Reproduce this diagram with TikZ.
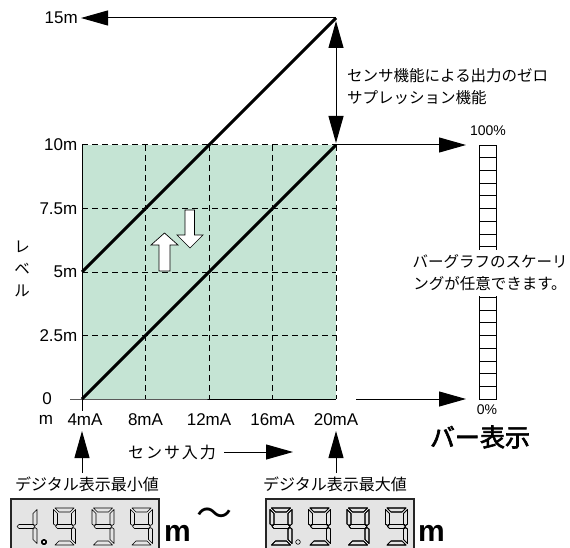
\documentclass[tikz,border=0pt]{standalone}
\usepackage{fontspec}
\setmainfont{Liberation Sans}
\newfontfamily\jp{Noto Sans CJK JP}
\newfontfamily\jpwide[LetterSpace=12]{Noto Sans CJK JP}
\newfontfamily\jpb[FakeBold=2.5]{Noto Sans CJK JP}
\usetikzlibrary{arrows.meta}

\definecolor{chartgreen}{RGB}{197,228,212}
\definecolor{panelgray}{RGB}{228,228,228}

\tikzset{
  sega/.pic={\path[segline] (1.5,37)--(20.5,37)--(16.5,33)--(5.5,33)--cycle;},
  segb/.pic={\path[segline] (22,35.5)--(18,31.5)--(18,21)--(20,19.5)--(22,21)--cycle;},
  segc/.pic={\path[segline] (22,1.5)--(18,5.5)--(18,16)--(20,17.5)--(22,16)--cycle;},
  segd/.pic={\path[segline] (1.5,0)--(20.5,0)--(16.5,4)--(5.5,4)--cycle;},
  sege/.pic={\path[segline] (0,1.5)--(4,5.5)--(4,16)--(2,17.5)--(0,16)--cycle;},
  segf/.pic={\path[segline] (0,35.5)--(4,31.5)--(4,21)--(2,19.5)--(0,21)--cycle;},
  segg/.pic={\path[segline] (2,18.5)--(4,20.5)--(18,20.5)--(20,18.5)--(18,16.5)--(4,16.5)--cycle;}
}
\newcommand{\sevenseg}[3]{%
  \begin{scope}[shift={(#1,#2)},xslant=0.14]
    \foreach \s in {#3} \pic {seg\s};
  \end{scope}}

\begin{document}
\begin{tikzpicture}[x=1pt,y=1pt,
  lbl/.style={font=\fontsize{17}{19}\selectfont, inner sep=1.5pt},
  jtxt/.style={font=\jp\fontsize{15.5}{22}\selectfont, inner sep=0pt},
  gridline/.style={dash pattern=on 6pt off 4pt, line width=1pt},
  bold line/.style={line width=3pt},
  big arrow/.style={-{Triangle[length=27pt,width=15pt]}, line width=1pt},
  segline/.style={draw=black, line width=0.6pt, line join=round},
  hollow/.style={draw=black, fill=white, line width=0.7pt},
  panel/.style={draw=black!85, fill=panelgray, line width=2pt}]
\useasboundingbox (0,0) rectangle (570,-548);

\coordinate (o) at (82,-399);
\coordinate (tr) at (336,-145);
\coordinate (top) at (336,-18);
\coordinate (mid5) at (82,-272);
\coordinate (b0) at (356,-399);
\coordinate (in100) at (466,-145);
\coordinate (in0) at (466,-399);
\coordinate (minmark) at (82,-431);
\coordinate (maxmark) at (336,-431);
\coordinate (senend) at (293,-452);

\fill[chartgreen] (82,-145) rectangle (336,-399);
\foreach \y in {-145,-208.5,-272,-335.5}
  \draw[gridline] (82,\y) -- (336,\y);
\foreach \x in {145.5,209,272.5,336}
  \draw[gridline] (\x,-145) -- (\x,-399);
\draw[line width=1pt] (70,-399) -- (o) -- (336,-399);
\draw[line width=1pt] (82,-145) -- (82,-411);

\draw[bold line] (mid5) -- (top);
\draw[bold line] (o) -- (tr);

\node[lbl, anchor=east, inner sep=3pt] (l15) at (81,-18) {15m};
\draw[big arrow] (top) -- (l15);
\draw[{Triangle[length=27pt,width=15pt]}-{Triangle[length=27pt,width=15pt]}, line width=1pt, shorten <=3pt, shorten >=2pt] (top) -- (tr);
\node[jtxt, align=left, anchor=west] (zsup) at (347,-86.5) {センサ機能による出力のゼロ\\サプレッション機能};

\foreach \v/\y [count=\i] in {10m/-145,7.5m/-208.5,5m/-272,2.5m/-335.5}
  \node[lbl, anchor=east] (lv\i) at (79,\y) {\v};
\node[lbl] (lv0) at (47,-399) {0};
\node[lbl] (unitm) at (46,-420) {m};
\foreach \v/\x [count=\i] in {4mA/85,8mA/145.5,12mA/209,16mA/272.5,20mA/336}
  \node[lbl] (ax\i) at (\x,-420) {\v};
\node[jtxt, align=center] (level) at (22,-269) {レ\\ベ\\ル};

\draw[hollow] (159,-271) -- (159,-245) -- (151,-245) -- (164.5,-233) -- (178,-245) -- (170,-245) -- (170,-271) -- cycle;
\draw[hollow] (185,-210) -- (185,-235) -- (177,-235) -- (190,-248) -- (203,-235) -- (194.5,-235) -- (194.5,-210) -- cycle;

\draw[big arrow] (tr) -- (in100);
\draw[big arrow] (b0) -- (in0);
\draw[line width=0.8pt] (479,-145) rectangle (496,-399);
\foreach \k in {1,...,19}
  \draw[line width=0.8pt] (479,{-145-12.7*\k}) -- (496,{-145-12.7*\k});
\node[jtxt, fill=white, align=center, inner ysep=5pt, inner xsep=2pt] (scaletxt) at (490,-273) {バーグラフのスケーリ\\ングが任意できます。};
\node[font=\fontsize{14}{16}\selectfont] (p100) at (488,-131) {100\%};
\node[font=\fontsize{14}{16}\selectfont] (p0) at (487,-410) {0\%};
\node[font=\jpb\fontsize{25}{28}\selectfont] (bartitle) at (480,-437) {バー表示};

\node[font=\jpwide\fontsize{16}{18}\selectfont] (senin) at (172,-452) {センサ入力};
\draw[big arrow] ([xshift=5pt]senin.east) -- (senend);

\node[font=\jp\fontsize{16}{18}\selectfont] (dmin) at (87,-484) {デジタル表示最小値};
\node[font=\jp\fontsize{16}{18}\selectfont] (dmax) at (335,-484) {デジタル表示最大値};
\draw[big arrow] (minmark |- dmin.north) -- (minmark);
\draw[big arrow] (maxmark |- dmax.north) -- (maxmark);

\draw[panel] (11,-499) rectangle (159,-560);
\draw[panel] (266,-499) rectangle (414,-560);
\sevenseg{15}{-545}{b,c,g}
\foreach \i in {1,2,3} \sevenseg{15+38.5*\i}{-545}{a,b,c,d,f,g}
\foreach \i in {0,...,3} \sevenseg{270+38.5*\i}{-545}{a,b,c,d,f,g}
\draw[segline] (44,-542) circle (2.3);
\draw[segline] (298,-542) circle (2.3);
\node[font=\bfseries\fontsize{30}{32}\selectfont, anchor=base west, inner sep=0pt] (mmin) at (164,-541) {m};
\node[font=\bfseries\fontsize{30}{32}\selectfont, anchor=base west, inner sep=0pt] (mmax) at (418,-541) {m};
\node[font=\jp\fontsize{36}{38}\selectfont, inner sep=0pt] (tilde) at (214,-517) {〜};
\end{tikzpicture}
\end{document}
